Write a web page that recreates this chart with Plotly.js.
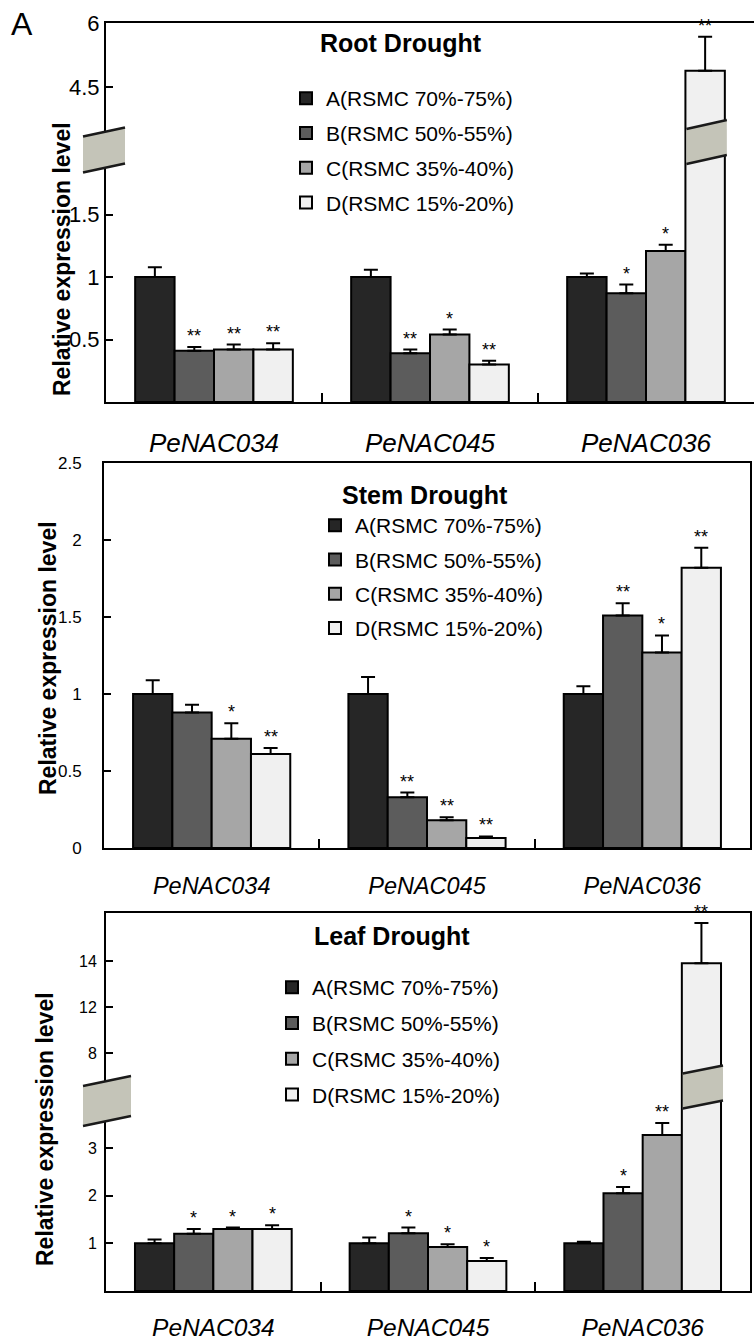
<!DOCTYPE html>
<html>
<head>
<meta charset="utf-8">
<script src="https://cdn.plot.ly/plotly-3.0.1.min.js"></script>
<style>
  html, body { margin: 0; padding: 0; background: #fff; }
  #chart { width: 754px; height: 1343px; }
</style>
</head>
<body>
<div id="chart"></div>
<script>
// ---- data -------------------------------------------------------------
const genes = ['PeNAC034', 'PeNAC045', 'PeNAC036'];
const levels = ['A(RSMC 70%-75%)', 'B(RSMC 50%-55%)', 'C(RSMC 35%-40%)', 'D(RSMC 15%-20%)'];

// rows: soil moisture level A..D, columns: genes
const rootMean = [
  [1.00, 1.00, 1.00],
  [0.41, 0.39, 0.87],
  [0.42, 0.54, 1.21],
  [0.42, 0.30, 4.88]
];
const rootErr = [
  [0.08, 0.06, 0.03],
  [0.03, 0.03, 0.07],
  [0.04, 0.04, 0.05],
  [0.05, 0.03, 0.80]
];
const rootSig = [
  ['', '', ''],
  ['**', '**', '*'],
  ['**', '*', '*'],
  ['**', '**', '**']
];

const stemMean = [
  [1.00, 1.00, 1.00],
  [0.88, 0.33, 1.51],
  [0.71, 0.18, 1.27],
  [0.61, 0.065, 1.82]
];
const stemErr = [
  [0.09, 0.11, 0.05],
  [0.05, 0.03, 0.08],
  [0.10, 0.02, 0.11],
  [0.04, 0.01, 0.13]
];
const stemSig = [
  ['', '', ''],
  ['', '**', '**'],
  ['*', '**', '*'],
  ['**', '**', '**']
];

const leafMean = [
  [1.00, 1.00, 1.00],
  [1.20, 1.21, 2.05],
  [1.30, 0.92, 3.27],
  [1.30, 0.63, 13.9]
];
const leafErr = [
  [0.08, 0.12, 0.03],
  [0.10, 0.12, 0.13],
  [0.03, 0.06, 0.25],
  [0.08, 0.06, 1.75]
];
const leafSig = [
  ['', '', ''],
  ['*', '*', '*'],
  ['*', '*', '**'],
  ['*', '*', '**']
];

// ---- geometry & style -------------------------------------------------
const W = 754, H = 1343;
const px = v => v / W;        // horizontal pixel -> paper
const py = v => 1 - v / H;    // vertical pixel (from top) -> paper

const FONT = 'Liberation Sans, Arial, Helvetica, sans-serif';
const fills = ['#262626', '#5c5c5c', '#a6a6a6', '#f0f0f0'];
const BARGAP = 0.27;
const BARW = (1 - BARGAP) / 4;   // width of one bar in category units

const traces = [];
const annotations = [];
const shapes = [];

// one tissue panel: lower (and optional upper) y segment sharing one category axis
function addTissue(opt) {
  const { mean, err, sig, xa, ya, xaUp, yaUp, lowerTop, legendId, tag } = opt;
  levels.forEach((lvl, i) => {
    const common = {
      type: 'bar',
      x: genes,
      y: mean[i],
      name: lvl,
      marker: { color: fills[i], line: { color: '#000', width: 2 } },
      error_y: {
        type: 'data', symmetric: false,
        array: err[i], arrayminus: err[i].map(() => 0),
        color: '#000', thickness: 2, width: 7
      },
      legend: legendId,
      legendgroup: tag + i,
      hoverinfo: 'x+y+name'
    };
    traces.push(Object.assign({}, common, { xaxis: xa, yaxis: ya, showlegend: true }));
    if (yaUp) {
      traces.push(Object.assign({}, common, { xaxis: xaUp, yaxis: yaUp, showlegend: false }));
    }
    genes.forEach((g, j) => {
      if (!sig[i][j]) return;
      const top = mean[i][j] + err[i][j];
      const up = yaUp && top > lowerTop;
      annotations.push({
        x: j + (i - 1.5) * BARW,
        y: top,
        xref: up ? xaUp : xa,
        yref: up ? yaUp : ya,
        text: sig[i][j],
        showarrow: false,
        yanchor: 'bottom',
        yshift: -1,
        font: { family: FONT, size: 18, color: '#000' }
      });
    });
  });
}

const ROOT_LOW = [0, 2.05], ROOT_UP = [3.117, 6];
const LEAF_LOW = [0, 4.109], LEAF_UP = [8.174, 16.087];

addTissue({ mean: rootMean, err: rootErr, sig: rootSig, xa: 'x', ya: 'y', xaUp: 'x2', yaUp: 'y2',
  lowerTop: ROOT_LOW[1], legendId: 'legend', tag: 'root' });
addTissue({ mean: stemMean, err: stemErr, sig: stemSig, xa: 'x3', ya: 'y3',
  lowerTop: 2.5, legendId: 'legend2', tag: 'stem' });
addTissue({ mean: leafMean, err: leafErr, sig: leafSig, xa: 'x4', ya: 'y4', xaUp: 'x5', yaUp: 'y5',
  lowerTop: LEAF_LOW[1], legendId: 'legend3', tag: 'leaf' });

// ---- axes -------------------------------------------------------------
const lineStyle = { showline: true, linecolor: '#000', linewidth: 2, showgrid: false, zeroline: false, fixedrange: true };

function catAxis(domain, anchor, extra) {
  return Object.assign({
    domain, anchor, type: 'category', range: [-0.5, 2.5],
    ticks: 'inside', tickson: 'boundaries', ticklen: 9, tickwidth: 2, tickcolor: '#000',
    tickfont: { family: FONT, size: 26, style: 'italic', color: '#000' },
    ticklabelstandoff: 16
  }, lineStyle, extra || {});
}
function topAxis(domain, anchor, match) {
  return Object.assign({
    domain, anchor, matches: match, type: 'category', range: [-0.5, 2.5], side: 'top',
    ticks: '', showticklabels: false
  }, lineStyle);
}
function valAxis(domain, anchor, range, extra) {
  return Object.assign({
    domain, anchor, range,
    ticks: 'inside', ticklen: 7, tickwidth: 2, tickcolor: '#000',
    tickfont: { family: FONT, size: 22, color: '#000' }
  }, lineStyle, extra || {});
}

const rootX = [px(106), 1];
const stemX = [px(104), px(750)];
const leafX = [px(106), px(750)];
const ROOT_SPLIT = 146, LEAF_SPLIT = 1095;

// ---- axis-break marks -------------------------------------------------
function breakMark(xL, xR, yMid, halfH, rise) {
  // xL, xR in pixels; yMid pixel of the split; rise = how much the right side is higher
  const p = (x, y) => px(x) + ',' + py(y);
  const t1 = yMid - halfH + rise / 2, t2 = yMid - halfH - rise / 2;
  const b1 = yMid + halfH + rise / 2, b2 = yMid + halfH - rise / 2;
  shapes.push({
    type: 'path', xref: 'paper', yref: 'paper', layer: 'above',
    path: 'M' + p(xL, t1) + ' L' + p(xR, t2) + ' L' + p(xR, b2) + ' L' + p(xL, b1) + ' Z',
    fillcolor: '#c4c4b8', line: { width: 0 }
  });
  [[t1, t2], [b1, b2]].forEach(([a, b]) => shapes.push({
    type: 'line', xref: 'paper', yref: 'paper', layer: 'above',
    x0: px(xL), y0: py(a), x1: px(xR), y1: py(b),
    line: { color: '#1a1a1a', width: 2.5 }
  }));
}
// pixel position of a bar edge inside a panel, from the category scale
function barEdgePx(dom, gene, level, side) {
  const x0 = dom[0] * W, x1 = dom[1] * W;
  const c = gene + (level - 1.5) * BARW + side * BARW / 2;
  return x0 + (c + 0.5) / 3 * (x1 - x0);
}
breakMark(83, 125, ROOT_SPLIT + 4, 18, 9);
breakMark(barEdgePx(rootX, 2, 3, -1) + 1, barEdgePx(rootX, 2, 3, 1) + 2, ROOT_SPLIT - 4, 17.5, 9);
breakMark(83, 131, LEAF_SPLIT + 6, 20, 10);
breakMark(barEdgePx(leafX, 2, 3, -1) + 1, barEdgePx(leafX, 2, 3, 1) + 2, LEAF_SPLIT - 8, 17.5, 8);

// ---- text -------------------------------------------------------------
function label(text, x, y, size, bold, angle) {
  annotations.push({
    text, x: px(x), y: py(y), xref: 'paper', yref: 'paper',
    showarrow: false, xanchor: 'center', yanchor: 'middle', textangle: angle || 0,
    font: { family: FONT, size, color: '#000', weight: bold ? 700 : 400 }
  });
}
label('A', 22, 24, 32, false);
label('Root Drought', 401, 43, 25, true);
label('Stem Drought', 425, 495, 25, true);
label('Leaf Drought', 392, 936, 25, true);
label('Relative expression level', 62, 259, 23, true, -90);
label('Relative expression level', 48, 658, 23, true, -90);
label('Relative expression level', 45, 1129, 23, true, -90);

const legendBase = {
  xanchor: 'left', yanchor: 'top', bgcolor: 'rgba(0,0,0,0)', borderwidth: 0,
  font: { family: FONT, size: 21, color: '#000' },
  itemclick: false, itemdoubleclick: false
};

const layout = {
  width: W, height: H, autosize: false,
  margin: { l: 0, r: 0, t: 0, b: 0 },
  paper_bgcolor: '#fff', plot_bgcolor: 'rgba(0,0,0,0)',
  barmode: 'group', bargap: BARGAP, bargroupgap: 0,
  font: { family: FONT, color: '#000' },

  xaxis: catAxis(rootX, 'y', { ticklabelstandoff: 17 }),
  xaxis2: topAxis(rootX, 'y2', 'x'),
  yaxis: valAxis([py(402), py(ROOT_SPLIT)], 'x', ROOT_LOW, { tickvals: [0.5, 1, 1.5], ticklabelstandoff: 0 }),
  yaxis2: valAxis([py(ROOT_SPLIT), py(23)], 'x2', ROOT_UP, { tickvals: [4.5, 6], ticklabelstandoff: 0 }),

  xaxis3: catAxis(stemX, 'y3', { mirror: true, tickfont: { family: FONT, size: 23.5, style: 'italic', color: '#000' } }),
  yaxis3: valAxis([py(848), py(463)], 'x3', [0, 2.5], {
    dtick: 0.5, mirror: true, ticklabelstandoff: 17,
    tickfont: { family: FONT, size: 17, color: '#000' }
  }),

  xaxis4: catAxis(leafX, 'y4', { ticklabelstandoff: 14, tickfont: { family: FONT, size: 24.5, style: 'italic', color: '#000' } }),
  xaxis5: topAxis(leafX, 'y5', 'x4'),
  yaxis4: valAxis([py(1291), py(LEAF_SPLIT)], 'x4', LEAF_LOW, {
    tickvals: [1, 2, 3], mirror: true, ticklabelstandoff: 4,
    tickfont: { family: FONT, size: 16, color: '#000' }
  }),
  yaxis5: valAxis([py(LEAF_SPLIT), py(913)], 'x5', LEAF_UP, {
    tickvals: [10, 12, 14], ticktext: ['8', '12', '14'], mirror: true, ticklabelstandoff: 4,
    tickfont: { family: FONT, size: 16, color: '#000' }
  }),

  legend: Object.assign({}, legendBase, { x: px(286), y: py(78), tracegroupgap: 4.5 }),
  legend2: Object.assign({}, legendBase, { x: px(315), y: py(505), tracegroupgap: 4 }),
  legend3: Object.assign({}, legendBase, { x: px(272), y: py(967), tracegroupgap: 5.5 }),

  annotations, shapes,
  showlegend: true
};

Plotly.newPlot('chart', traces, layout, { displayModeBar: false, staticPlot: true });
</script>
</body>
</html>
